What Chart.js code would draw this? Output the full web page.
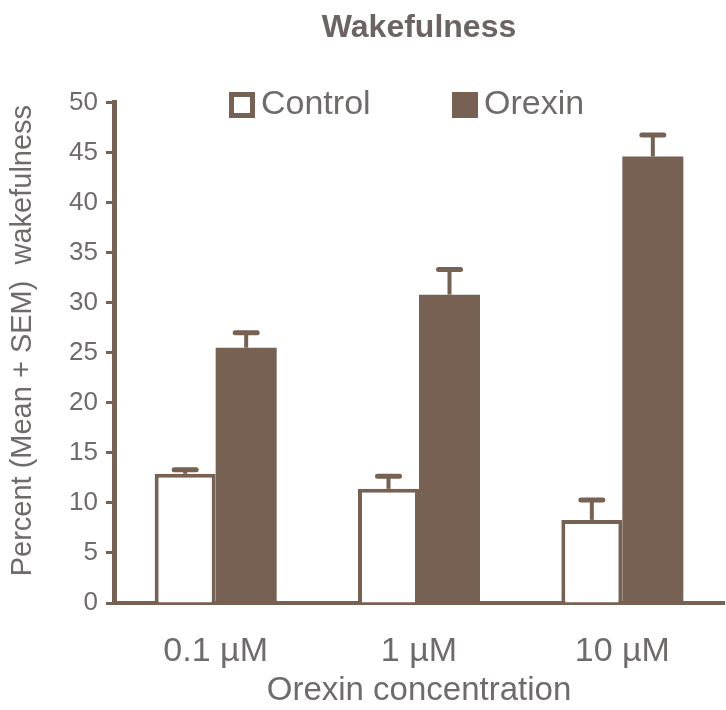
<!DOCTYPE html>
<html>
<head>
<meta charset="utf-8">
<title>Wakefulness</title>
<script src="https://cdn.jsdelivr.net/npm/chart.js@4.4.1/dist/chart.umd.min.js"></script>
<style>
  html, body { margin: 0; padding: 0; background: #fff; }
  #wrap { width: 726px; height: 710px; position: relative; }
</style>
</head>
<body>
<div id="wrap"><canvas id="chart"></canvas></div>
<script>
// data
const concentrations = ["0.1 µM", "1 µM", "10 µM"];
const controlMean = [12.9, 11.4, 8.3];
const controlSem = [0.4, 1.25, 2.0];
const orexinMean = [25.5, 30.8, 44.6];
const orexinSem = [1.5, 2.5, 2.15];
const yTicks = [0, 5, 10, 15, 20, 25, 30, 35, 40, 45, 50];

const brown = "#766152";
const grey = "#6e6b6a";
const font = "'Liberation Sans', Arial, sans-serif";

// SEM whiskers (upper side only)
const errorBars = {
    id: "errorBars",
    afterDatasetsDraw(chart) {
        const { ctx } = chart;
        const y = chart.scales.y;
        chart.data.datasets.forEach((ds, i) => {
            chart.getDatasetMeta(i).data.forEach((bar, j) => {
                const top = y.getPixelForValue(ds.data[j] + ds.sem[j]);
                ctx.save();
                ctx.strokeStyle = brown;
                ctx.lineWidth = 4;
                ctx.beginPath();
                ctx.moveTo(bar.x, bar.y);
                ctx.lineTo(bar.x, top);
                ctx.stroke();
                ctx.lineWidth = 5;
                ctx.lineCap = "round";
                ctx.beginPath();
                ctx.moveTo(bar.x - 11, top);
                ctx.lineTo(bar.x + 11, top);
                ctx.stroke();
                ctx.restore();
            });
        });
    },
};

// legend drawn inside the plot, as in the figure
const insideLegend = {
    id: "insideLegend",
    afterDraw(chart) {
        const { ctx } = chart;
        const spots = [229, 452];
        ctx.save();
        ctx.font = `34px ${font}`;
        ctx.textBaseline = "middle";
        chart.data.datasets.forEach((ds, i) => {
            const x = spots[i], y = 92;
            if (ds.backgroundColor === "#ffffff") {
                ctx.strokeStyle = brown;
                ctx.lineWidth = 5;
                ctx.strokeRect(x + 2.5, y + 2.5, 21, 21);
            } else {
                ctx.fillStyle = brown;
                ctx.fillRect(x, y, 26, 26);
            }
            ctx.fillStyle = grey;
            ctx.fillText(ds.label, x + 32, y + 13);
        });
        ctx.restore();
    },
};

new Chart(document.getElementById("chart"), {
    type: "bar",
    data: {
        labels: concentrations,
        datasets: [
            {
                label: "Control",
                data: controlMean,
                sem: controlSem,
                backgroundColor: "#ffffff",
                borderColor: brown,
                borderWidth: 4,
            },
            {
                label: "Orexin",
                data: orexinMean,
                sem: orexinSem,
                backgroundColor: brown,
                borderColor: brown,
                borderWidth: 0,
            },
        ],
    },
    options: {
        responsive: true,
        maintainAspectRatio: false,
        animation: false,
        categoryPercentage: 0.6,
        barPercentage: 1.0,
        layout: { padding: { left: 0, right: 2, top: 0, bottom: 3 } },
        plugins: {
            legend: { display: false },
            tooltip: { enabled: false },
            title: {
                display: true,
                text: "Wakefulness",
                fullSize: false,
                color: "#6b6462",
                font: { family: font, size: 32, weight: "bold", lineHeight: 1.2 },
                padding: { top: 9, bottom: 55 },
            },
        },
        scales: {
            x: {
                afterFit(scale) { scale.height = 104; },
                grid: { display: false },
                border: { display: true, color: brown, width: 4 },
                ticks: {
                    color: grey,
                    padding: 20,
                    maxRotation: 0,
                    font: { family: font, size: 34, lineHeight: 1.2 },
                },
                title: {
                    display: true,
                    text: "Orexin concentration",
                    color: grey,
                    font: { family: font, size: 33, lineHeight: 1.0 },
                    padding: { top: 3, bottom: 0 },
                },
            },
            y: {
                min: 0,
                max: 50,
                afterFit(scale) { scale.width = 114; },
                afterBuildTicks(scale) { scale.ticks = yTicks.map((v) => ({ value: v })); },
                grid: {
                    display: true,
                    drawOnChartArea: false,
                    drawTicks: true,
                    tickLength: 8,
                    tickWidth: 3,
                    tickColor: brown,
                },
                border: { display: true, color: brown, width: 5 },
                ticks: {
                    color: grey,
                    padding: 8,
                    font: { family: font, size: 26 },
                },
                title: {
                    display: true,
                    text: "   Percent (Mean + SEM)  wakefulness",
                    color: grey,
                    font: { family: font, size: 29, lineHeight: 1.0 },
                    padding: { top: 8, bottom: 0 },
                },
            },
        },
    },
    plugins: [errorBars, insideLegend],
});
</script>
</body>
</html>
